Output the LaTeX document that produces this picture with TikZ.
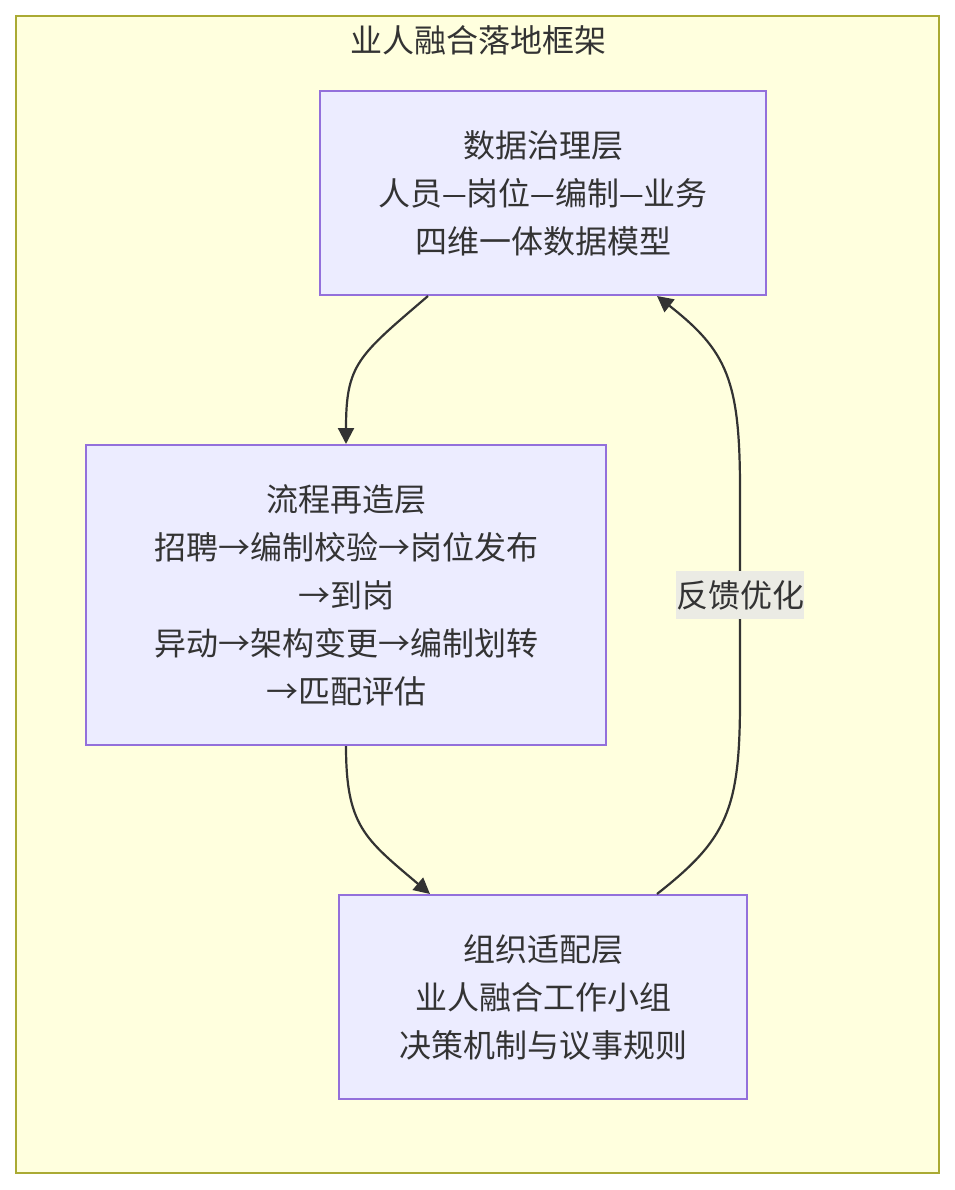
\documentclass[tikz,border=0pt]{standalone}
\usepackage{graphicx}
\usepackage{fontspec}
\setmainfont{Noto Sans CJK SC}
\definecolor{clusterbg}{HTML}{FFFFDE}
\definecolor{clusterline}{HTML}{AAAA33}
\definecolor{layerbg}{HTML}{ECECFF}
\definecolor{layerline}{HTML}{9370DB}
\definecolor{edgegray}{HTML}{333333}
\definecolor{lblbg}{HTML}{EBEBE4}
\usetikzlibrary{arrows.meta}
\newcommand{\ldash}{\scalebox{0.86}[1]{—}}

\begin{document}
\begin{tikzpicture}[x=1pt, y=-1pt,
      frame/.style={draw=clusterline, fill=clusterbg, line width=2pt,
                  minimum width=923pt, minimum height=1157pt},
      layer/.style={draw=layerline, fill=layerbg, line width=2pt,
                  text=edgegray, align=center, inner sep=0pt,
                  font=\fontsize{32}{48}\selectfont},
      lbl/.style={fill=lblbg, text=edgegray, inner sep=0pt,
                  minimum height=48pt, font=\fontsize{32}{48}\selectfont},
      arr/.style={-{Triangle[length=16pt, width=16pt]}, line width=2.2pt, color=edgegray}
  ]
    \useasboundingbox (0,0) rectangle (954,1190);
    \node[frame] (fw) at (477.5,594.5) {};
    \node[text=edgegray, font=\fontsize{32}{48}\selectfont] (title) at (478,40) {业人融合落地框架};
    \node[layer, minimum width=446pt, minimum height=204pt] (gov) at (543,193)
      {数据治理层\\ 人员\ldash 岗位\ldash 编制\ldash 业务\\ 四维一体数据模型};
    \node[layer, minimum width=520pt, minimum height=300pt] (proc) at (346,595)
      {流程再造层\\ 招聘→编制校验→岗位发布\\ →到岗\\ 异动→架构变更→编制划转\\ →匹配评估};
    \node[layer, minimum width=408pt, minimum height=204pt] (org) at (543,997)
      {组织适配层\\ 业人融合工作小组\\ 决策机制与议事规则};
    \draw[arr] ([xshift=-115pt]gov.south) .. controls +(-70,60) and +(0,-80) .. (proc.north);
    \draw[arr] (proc.south) .. controls +(0,80) and +(-65,-55) .. ([xshift=-113pt]org.north);
    \draw[arr] ([xshift=114pt]org.north) .. controls +(70,-55) and +(0,110) .. (740,700)
      -- node[lbl] (fb) {反馈优化} (740,490)
      .. controls +(0,-110) and +(70,55) .. ([xshift=114pt]gov.south);
  \end{tikzpicture}
\end{document}
